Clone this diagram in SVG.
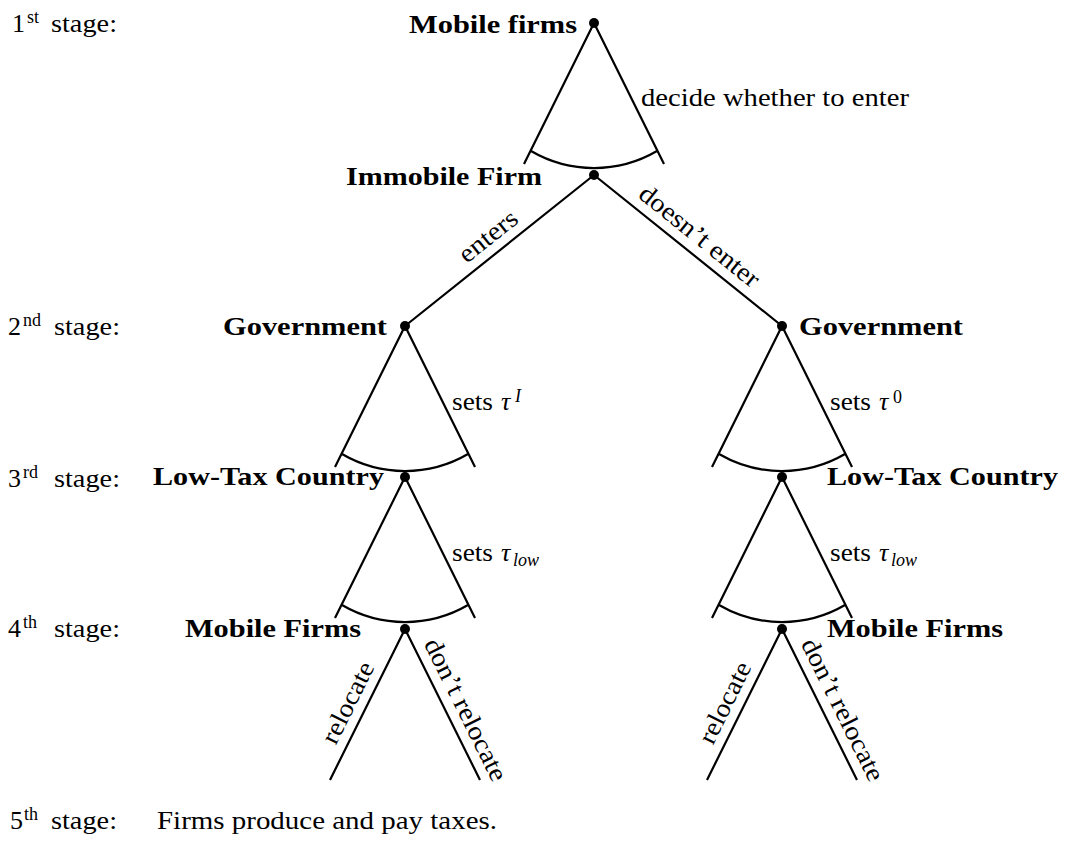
<svg xmlns="http://www.w3.org/2000/svg" width="1067" height="842" viewBox="0 0 1067 842">
<style>
text{font-family:"Liberation Serif","Times New Roman",serif;font-size:26px;fill:#000}
.b{font-weight:bold;font-size:25.5px}
.sup{font-size:18px}
.it{font-style:italic}
.e{stroke:#000;stroke-width:2.2;fill:none;stroke-linecap:butt}
.dot{fill:#000}
</style>
<rect width="1067" height="842" fill="#fff"/>
<g id="stages">
<text x="12" y="32">1<tspan class="sup" x="27" y="23">st</tspan><tspan x="51" y="32" textLength="66" lengthAdjust="spacingAndGlyphs">stage:</tspan></text>
<text x="8" y="335">2<tspan class="sup" x="23" y="326">nd</tspan><tspan x="54" y="335" textLength="66" lengthAdjust="spacingAndGlyphs">stage:</tspan></text>
<text x="8" y="487">3<tspan class="sup" x="23" y="478">rd</tspan><tspan x="54" y="487" textLength="66" lengthAdjust="spacingAndGlyphs">stage:</tspan></text>
<text x="8" y="637">4<tspan class="sup" x="23" y="628">th</tspan><tspan x="54" y="637" textLength="66" lengthAdjust="spacingAndGlyphs">stage:</tspan></text>
<text x="10" y="829">5<tspan class="sup" x="24" y="820">th</tspan><tspan x="51" y="829" textLength="66" lengthAdjust="spacingAndGlyphs">stage:</tspan></text>
<text x="157" y="829" textLength="340" lengthAdjust="spacingAndGlyphs">Firms produce and pay taxes.</text>
</g>
<g id="connectors">
<path class="e" d="M594 23 L524 164 M594 23 L664 164"/>
<path class="e" d="M531 151 A125 125 0 0 0 657 151"/>
<path class="e" d="M594 175 L405 326 M594 175 L782 326"/>
<path class="e" d="M405 326 L335 467 M405 326 L475 467"/>
<path class="e" d="M342 454 A125 125 0 0 0 468 454"/>
<path class="e" d="M782 326 L712 467 M782 326 L852 467"/>
<path class="e" d="M719 454 A125 125 0 0 0 845 454"/>
<path class="e" d="M405 477 L335 618 M405 477 L475 618"/>
<path class="e" d="M342 605 A125 125 0 0 0 468 605"/>
<path class="e" d="M782 477 L712 618 M782 477 L852 618"/>
<path class="e" d="M719 605 A125 125 0 0 0 845 605"/>
<path class="e" d="M405 629 L330 780 M405 629 L480 780"/>
<path class="e" d="M782 629 L707 780 M782 629 L857 780"/>
</g>
<g id="edge-labels">
<text x="641" y="106" textLength="268" lengthAdjust="spacingAndGlyphs">decide whether to enter</text>
<text text-anchor="middle" transform="translate(493.3 242.7) rotate(-38.6)" textLength="68" lengthAdjust="spacingAndGlyphs">enters</text>
<text text-anchor="middle" transform="translate(694.3 242.7) rotate(38.8)" textLength="147" lengthAdjust="spacingAndGlyphs">doesn’t enter</text>
<text x="452" y="410"><tspan textLength="41" lengthAdjust="spacingAndGlyphs">sets</tspan><tspan class="it" x="501">τ</tspan><tspan class="it sup" x="515" y="402">I</tspan></text>
<text x="830" y="410"><tspan textLength="41" lengthAdjust="spacingAndGlyphs">sets</tspan><tspan class="it" x="879">τ</tspan><tspan class="sup" x="893" y="403">0</tspan></text>
<text x="452" y="561"><tspan textLength="41" lengthAdjust="spacingAndGlyphs">sets</tspan><tspan class="it" x="501">τ</tspan><tspan class="it sup" x="513" y="566">low</tspan></text>
<text x="830" y="561"><tspan textLength="41" lengthAdjust="spacingAndGlyphs">sets</tspan><tspan class="it" x="879">τ</tspan><tspan class="it sup" x="891" y="566">low</tspan></text>
<text text-anchor="middle" transform="translate(355.4 706.3) rotate(-63.6)" textLength="88" lengthAdjust="spacingAndGlyphs">relocate</text>
<text text-anchor="middle" transform="translate(458.2 713.5) rotate(63.6)" textLength="156" lengthAdjust="spacingAndGlyphs">don’t relocate</text>
<text text-anchor="middle" transform="translate(732.4 706.3) rotate(-63.8)" textLength="88" lengthAdjust="spacingAndGlyphs">relocate</text>
<text text-anchor="middle" transform="translate(835.2 713.5) rotate(63.6)" textLength="156" lengthAdjust="spacingAndGlyphs">don’t relocate</text>
</g>
<g id="n-mobile-top"><circle class="dot" cx="594" cy="23" r="5"/><text class="b" x="409" y="33" textLength="168" lengthAdjust="spacingAndGlyphs">Mobile firms</text></g>
<g id="n-immobile"><circle class="dot" cx="594" cy="175" r="5"/><text class="b" x="346" y="185" textLength="196" lengthAdjust="spacingAndGlyphs">Immobile Firm</text></g>
<g id="n-gov-left"><circle class="dot" cx="405" cy="326" r="5"/><text class="b" x="223" y="335" textLength="164" lengthAdjust="spacingAndGlyphs">Government</text></g>
<g id="n-gov-right"><circle class="dot" cx="782" cy="326" r="5"/><text class="b" x="799" y="335" textLength="164" lengthAdjust="spacingAndGlyphs">Government</text></g>
<g id="n-lowtax-left"><circle class="dot" cx="405" cy="477" r="5"/><text class="b" x="153" y="485" textLength="231" lengthAdjust="spacingAndGlyphs">Low-Tax Country</text></g>
<g id="n-lowtax-right"><circle class="dot" cx="782" cy="477" r="5"/><text class="b" x="827" y="485" textLength="231" lengthAdjust="spacingAndGlyphs">Low-Tax Country</text></g>
<g id="n-mobile-left"><circle class="dot" cx="405" cy="629" r="5"/><text class="b" x="185" y="637" textLength="176" lengthAdjust="spacingAndGlyphs">Mobile Firms</text></g>
<g id="n-mobile-right"><circle class="dot" cx="782" cy="629" r="5"/><text class="b" x="827" y="637" textLength="176" lengthAdjust="spacingAndGlyphs">Mobile Firms</text></g>
</svg>
